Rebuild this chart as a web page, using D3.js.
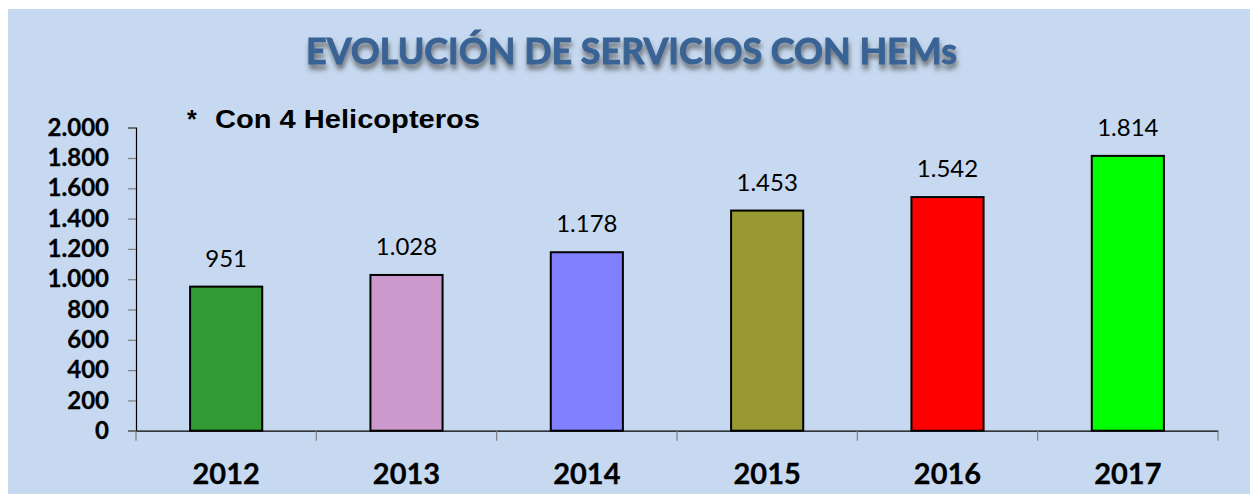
<!DOCTYPE html>
<html>
<head>
<meta charset="utf-8">
<script src="https://cdn.jsdelivr.net/npm/d3@7/dist/d3.min.js"></script>
<style>
  html, body { margin: 0; padding: 0; background: #ffffff; }
  svg { display: block; }
</style>
</head>
<body>
<svg id="chart" width="1250" height="494"></svg>
<script>
// Services carried out by the medical helicopters, per year
const years = ["2012", "2013", "2014", "2015", "2016", "2017"];
const services = [951, 1028, 1178, 1453, 1542, 1814];
const barColors = ["#339933", "#CC99CC", "#8080FF", "#999933", "#FF0000", "#00FF00"];
const yTicks = [0, 200, 400, 600, 800, 1000, 1200, 1400, 1600, 1800, 2000];
const titleText = "EVOLUCIÓN DE SERVICIOS CON HEMs";
const noteText = "Con 4 Helicopteros";

const es = d3.formatLocale({ decimal: ",", thousands: ".", grouping: [3], currency: ["", " €"] });
const fmt = es.format(",d");

const svg = d3.select("#chart");

// panel background
svg.append("rect")
  .attr("x", 8).attr("y", 9).attr("width", 1242).attr("height", 485)
  .attr("fill", "#C6D9F0");

// soft shadow for the title
const defs = svg.append("defs");
const f = defs.append("filter").attr("id", "titleShadow")
  .attr("x", "-5%").attr("y", "-40%").attr("width", "110%").attr("height", "200%");
f.append("feDropShadow")
  .attr("dx", 1).attr("dy", 5).attr("stdDeviation", 2.5)
  .attr("flood-color", "#555").attr("flood-opacity", 0.8);

svg.append("text")
  .attr("x", 306).attr("y", 64)
  .attr("textLength", 651).attr("lengthAdjust", "spacingAndGlyphs")
  .attr("font-family", "Lato, 'Open Sans', sans-serif")
  .attr("font-weight", 700).attr("font-size", 37)
  .attr("fill", "#386494")
  .attr("stroke", "#386494").attr("stroke-width", 0.9)
  .attr("filter", "url(#titleShadow)")
  .text(titleText);

// note
svg.append("text")
  .attr("x", 187).attr("y", 128)
  .attr("font-family", "'Liberation Sans', Arial, sans-serif")
  .attr("font-weight", 700).attr("font-size", 25)
  .attr("fill", "#000")
  .text("*");
svg.append("text")
  .attr("x", 215).attr("y", 128)
  .attr("textLength", 265).attr("lengthAdjust", "spacingAndGlyphs")
  .attr("font-family", "'Liberation Sans', Arial, sans-serif")
  .attr("font-weight", 700).attr("font-size", 25)
  .attr("fill", "#000")
  .text(noteText);

// scales
const x = d3.scaleBand().domain(years).range([136, 1218]).paddingInner(0).paddingOuter(0);
const y = d3.scaleLinear().domain([0, 2000]).range([430.7, 127.7]);
const barW = x.bandwidth() * 0.4;

// y axis
const yAxis = svg.append("g")
  .attr("transform", "translate(136,0)")
  .call(d3.axisLeft(y).tickValues(yTicks).tickSize(8).tickPadding(19).tickFormat(fmt));
yAxis.select(".domain").attr("stroke", "#000").attr("stroke-width", 1.2);
yAxis.selectAll(".tick line").attr("stroke", "#7f7f7f").attr("stroke-width", 1.2);
yAxis.selectAll(".tick text")
  .attr("font-family", "Lato, sans-serif").attr("font-weight", 700)
  .attr("font-size", 24).attr("fill", "#000")
  .attr("stroke", "#000").attr("stroke-width", 0.3);

// x axis: ticks sit on category boundaries
const xAxis = svg.append("g")
  .attr("transform", `translate(0,${y(0)})`)
  .call(d3.axisBottom(x).tickSize(0).tickPadding(33));
xAxis.select(".domain").attr("stroke", "#000").attr("stroke-width", 1.2);
xAxis.selectAll(".tick text")
  .attr("font-family", "Lato, sans-serif").attr("font-weight", 700)
  .attr("font-size", 29).attr("fill", "#000")
  .attr("stroke", "#000").attr("stroke-width", 0.3);
const bounds = years.map(d => x(d)).concat([x(years[years.length - 1]) + x.bandwidth()]);
xAxis.selectAll("line.bound").data(bounds).join("line")
  .attr("class", "bound")
  .attr("x1", d => d).attr("x2", d => d)
  .attr("y1", 0).attr("y2", 10)
  .attr("stroke", "#7f7f7f").attr("stroke-width", 1.2);

// bars
svg.append("g").selectAll("rect").data(years).join("rect")
  .attr("x", (d) => x(d) + (x.bandwidth() - barW) / 2)
  .attr("y", (d, i) => y(services[i]))
  .attr("width", barW)
  .attr("height", (d, i) => y(0) - y(services[i]))
  .attr("fill", (d, i) => barColors[i])
  .attr("stroke", "#000").attr("stroke-width", 2);

// value labels
svg.append("g").selectAll("text").data(years).join("text")
  .attr("x", d => x(d) + x.bandwidth() / 2)
  .attr("y", (d, i) => y(services[i]) - 20)
  .attr("text-anchor", "middle")
  .attr("font-family", "Lato, sans-serif").attr("font-size", 24)
  .attr("fill", "#000")
  .text((d, i) => fmt(services[i]));
</script>
</body>
</html>
